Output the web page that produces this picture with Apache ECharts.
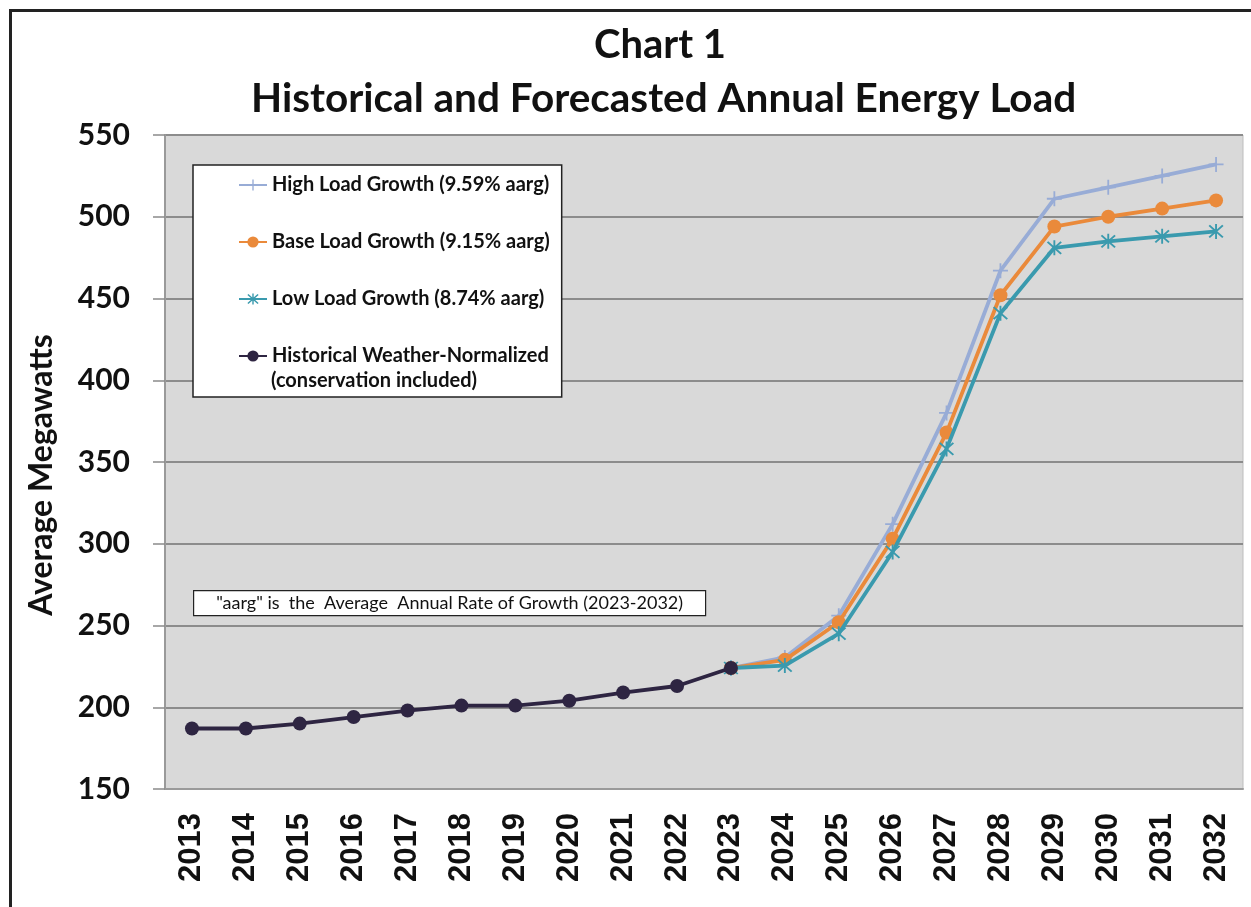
<!DOCTYPE html>
<html>
<head>
<meta charset="utf-8">
<script src="https://cdn.jsdelivr.net/npm/echarts@6/dist/echarts.min.js"></script>
<style>
  html, body { margin: 0; padding: 0; background: #ffffff; }
  #chart { width: 1251px; height: 907px; }
</style>
</head>
<body>
<div id="chart"></div>
<script>
// Years on the category axis
const years = ['2013','2014','2015','2016','2017','2018','2019','2020','2021','2022',
               '2023','2024','2025','2026','2027','2028','2029','2030','2031','2032'];

// Average megawatts by year
const historical = [187, 187, 190, 194, 198, 201, 201, 204, 209, 213, 224,
                    null, null, null, null, null, null, null, null, null];
const highGrowth = [null, null, null, null, null, null, null, null, null, null,
                    224, 230.5, 256, 312, 380, 467, 511, 518, 525, 532];
const baseGrowth = [null, null, null, null, null, null, null, null, null, null,
                    224, 229, 252, 303, 368, 452, 494, 500, 505, 510];
const lowGrowth  = [null, null, null, null, null, null, null, null, null, null,
                    224, 225.5, 245, 295, 358, 441, 481, 485, 488, 491];

// Value axis range and step
const yMin = 150, yMax = 550, yStep = 50;

const seriesNames = [
  'High Load Growth (9.59% aarg)',
  'Base Load Growth (9.15% aarg)',
  'Low Load Growth (8.74% aarg)',
  'Historical Weather-Normalized'
];

const titleFont = 'Lato, "Open Sans", sans-serif';

// Marker shapes: thin plus and asterisk
const plusPath = 'path://M4.4,0H5.6V4.4H10V5.6H5.6V10H4.4V5.6H0V4.4H4.4Z';
const starPath = 'path://M4.45,0H5.55V10H4.45Z M0.6,1.4L1.4,0.6L9.4,8.6L8.6,9.4Z M8.6,0.6L9.4,1.4L1.4,9.4L0.6,8.6Z';

const chart = echarts.init(document.getElementById('chart'), null, { renderer: 'canvas' });

chart.setOption({
  animation: false,
  backgroundColor: '#ffffff',
  title: [
    {
      text: 'Chart 1',
      left: 589, top: 20,
      textStyle: { fontFamily: titleFont, fontWeight: 'bold', fontSize: 40, color: '#111' }
    },
    {
      text: 'Historical and Forecasted Annual Energy Load',
      left: 246, top: 73,
      textStyle: { fontFamily: titleFont, fontWeight: 'bold', fontSize: 40.5, color: '#111' }
    }
  ],
  grid: { left: 165, top: 135, right: 8, bottom: 118, show: true,
          backgroundColor: '#d9d9d9', borderColor: '#bdbdbd', borderWidth: 1 },
  legend: {
    orient: 'vertical',
    left: 193, top: 165,
    data: seriesNames,
    backgroundColor: '#ffffff',
    borderColor: '#222',
    borderWidth: 1.5,
    padding: [10, 12, 31, 45],
    itemGap: 37,
    itemWidth: 28,
    itemHeight: 14,
    textStyle: { fontFamily: titleFont, fontWeight: 'bold', fontSize: 20, color: '#111' }
  },
  xAxis: {
    type: 'category',
    data: years,
    boundaryGap: true,
    axisLine: { lineStyle: { color: '#9a9a9a', width: 2 } },
    axisTick: { show: false },
    axisLabel: {
      rotate: 90, margin: 24,
      fontFamily: '"Liberation Sans", Arial, sans-serif',
      fontWeight: 'bold', fontSize: 31, color: '#111'
    },
    splitLine: { show: false }
  },
  yAxis: {
    type: 'value',
    min: yMin, max: yMax, interval: yStep,
    axisLine: { show: true, lineStyle: { color: '#9a9a9a', width: 2 } },
    axisTick: { show: true, inside: false, length: 12, lineStyle: { color: '#8a8a8a', width: 1.5 } },
    axisLabel: {
      margin: 35,
      fontFamily: titleFont, fontWeight: 'bold', fontSize: 30, color: '#111'
    },
    splitLine: { show: true, lineStyle: { color: '#8c8c8c', width: 2 } }
  },
  series: [
    {
      name: seriesNames[0], type: 'line', data: highGrowth,
      symbol: plusPath, symbolSize: 15,
      itemStyle: { color: '#98acd6' },
      lineStyle: { color: '#98acd6', width: 3.8 },
      z: 2
    },
    {
      name: seriesNames[1], type: 'line', data: baseGrowth,
      symbol: 'circle', symbolSize: 14,
      itemStyle: { color: '#ea8a3b' },
      lineStyle: { color: '#ea8a3b', width: 3.8 },
      z: 3
    },
    {
      name: seriesNames[2], type: 'line', data: lowGrowth,
      symbol: starPath, symbolSize: 15,
      itemStyle: { color: '#3a9aae' },
      lineStyle: { color: '#3a9aae', width: 3.8 },
      z: 4
    },
    {
      name: seriesNames[3], type: 'line', data: historical,
      symbol: 'circle', symbolSize: 14,
      itemStyle: { color: '#2e2542' },
      lineStyle: { color: '#2e2542', width: 3.8 },
      z: 5
    }
  ],
  graphic: [
    // outer frame of the chart
    {
      type: 'rect', left: 8, top: 8, z: 100, silent: true,
      shape: { width: 1260, height: 920 },
      style: { fill: 'none', stroke: '#222', lineWidth: 3 }
    },
    // value axis title
    {
      type: 'text', x: 42, y: 475, rotation: Math.PI / 2, z: 100,
      style: {
        text: 'Average Megawatts', font: 'bold 32px ' + titleFont, fill: '#111',
        align: 'center', verticalAlign: 'middle'
      }
    },
    // second line of the historical legend entry
    {
      type: 'text', left: 271, top: 371, z: 100,
      style: { text: '(conservation included)', font: 'bold 20px ' + titleFont, fill: '#111' }
    },
    // note box about the growth rate
    {
      type: 'group', left: 193, top: 590, z: 100,
      children: [
        {
          type: 'rect', shape: { x: 0, y: 0, width: 512, height: 25 },
          style: { fill: '#ffffff', stroke: '#222', lineWidth: 1.2 }
        },
        {
          type: 'text', x: 256, y: 12.5,
          style: {
            text: '"aarg" is  the  Average  Annual Rate of Growth (2023-2032)',
            font: '18px ' + titleFont, fill: '#111', align: 'center', verticalAlign: 'middle'
          }
        }
      ]
    }
  ]
});
</script>
</body>
</html>
